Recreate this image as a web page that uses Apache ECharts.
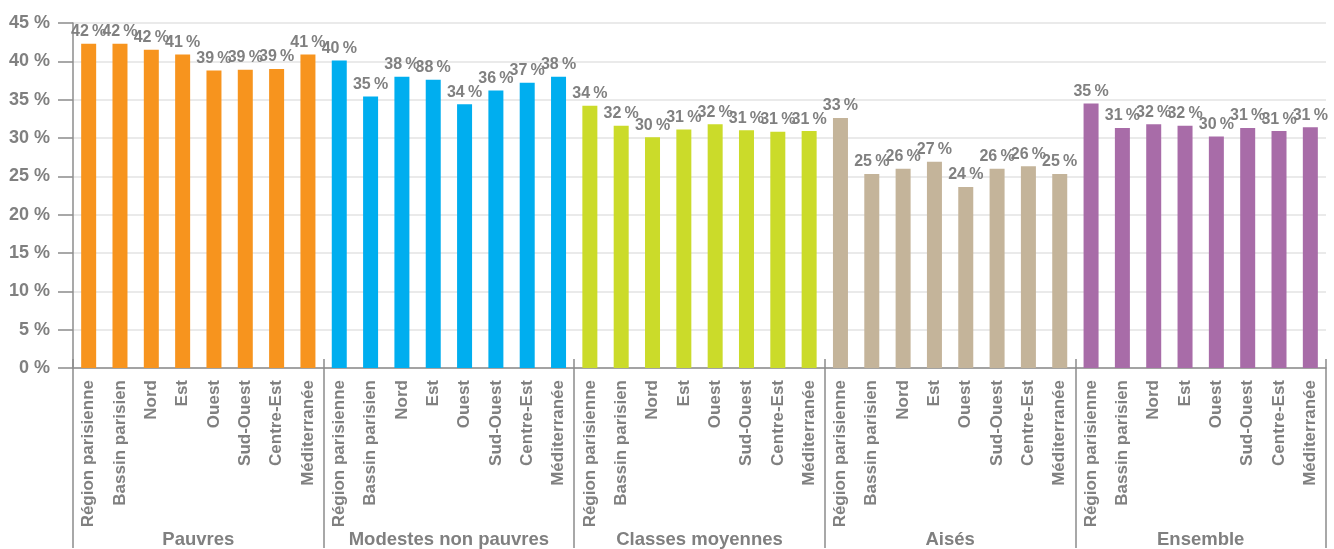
<!DOCTYPE html>
<html>
<head>
<meta charset="utf-8">
<script src="https://cdn.jsdelivr.net/npm/echarts@6/dist/echarts.min.js"></script>
<style>html,body{margin:0;padding:0;background:#fff}#c{width:1334px;height:549px}</style>
</head>
<body>
<div id="c"></div>
<script>
const regions = ["Région parisienne","Bassin parisien","Nord","Est","Ouest","Sud-Ouest","Centre-Est","Méditerranée"];
const groups = ["Pauvres","Modestes non pauvres","Classes moyennes","Aisés","Ensemble"];
const groupColors = ["#F7941E","#00AEEF","#CBDB2A","#C4B49A","#A86CA8"];
const pauvres   = [42.3,42.3,41.5,40.9,38.8,38.9,39.0,40.9];
const modestes  = [40.1,35.4,38.0,37.6,34.4,36.2,37.2,38.0];
const moyennes  = [34.2,31.6,30.1,31.1,31.8,31.0,30.8,30.9];
const aises     = [32.6,25.3,26.0,26.9,23.6,26.0,26.3,25.3];
const ensemble  = [34.5,31.3,31.8,31.6,30.2,31.3,30.9,31.4];
const yTicks = [0,5,10,15,20,25,30,35,40,45];

const seriesValues = [pauvres, modestes, moyennes, aises, ensemble];
const categories = [];
const data = [];
seriesValues.forEach((vals, g) => {
  vals.forEach((v, i) => {
    categories.push(regions[i]);
    data.push({ value: v, itemStyle: { color: groupColors[g] } });
  });
});

const gray = '#808080';
const font = 'Liberation Sans, Arial, sans-serif';
const chart = echarts.init(document.getElementById('c'), null, { renderer: 'canvas' });
chart.setOption({
  animation: false,
  grid: { left: 73, right: 8, top: 23, bottom: 180, containLabel: false },
  xAxis: [
    {
      type: 'category', data: categories, position: 'bottom',
      axisLine: { show: true, lineStyle: { color: '#8c8c8c', width: 1.5 } },
      axisTick: { show: false },
      axisLabel: { interval: 0, rotate: 90, margin: 12, color: gray, fontWeight: 'bold',
        fontSize: 17, fontFamily: font }
    },
    {
      type: 'category', data: groups, position: 'bottom', offset: -9,
      axisLine: { show: false },
      axisTick: { show: true, length: 189, lineStyle: { color: '#8c8c8c', width: 1.5 } },
      axisLabel: { interval: 0, margin: 171, color: gray, fontWeight: 'bold', fontSize: 18.5,
        fontFamily: font }
    }
  ],
  yAxis: {
    type: 'value', min: 0, max: 45, interval: 5,
    axisLine: { show: true, lineStyle: { color: '#8c8c8c', width: 1.5 } },
    axisTick: { show: true, length: 15, lineStyle: { color: '#8c8c8c', width: 1.5 } },
    splitLine: { show: true, lineStyle: { color: '#e3e3e3', width: 1.5 } },
    axisLabel: { margin: 23, color: gray, fontWeight: 'bold', fontSize: 18,
      fontFamily: font,
      formatter: v => yTicks.includes(v) ? v + ' %' : '' }
  },
  series: [{
    type: 'bar', xAxisIndex: 0, data: data, barWidth: 15,
    label: { show: true, position: 'top', distance: 4, color: gray, fontWeight: 'bold', fontSize: 16,
      fontFamily: font,
      formatter: p => Math.round(p.value) + '\u2009%' }
  }]
});
</script>
</body>
</html>
